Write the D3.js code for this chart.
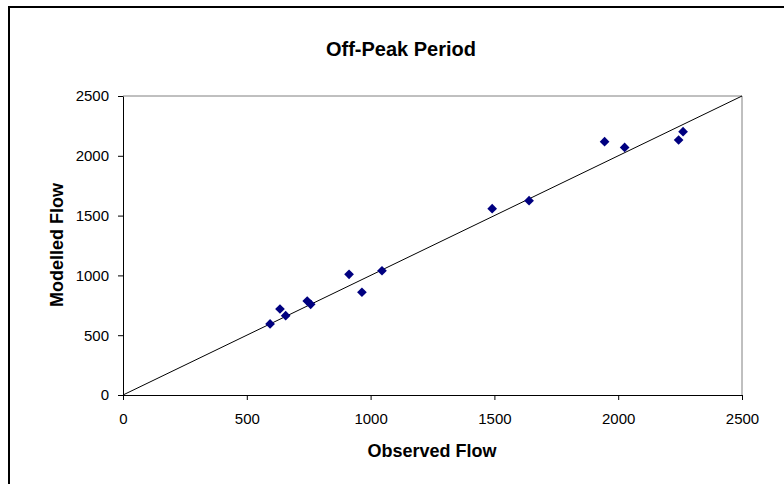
<!DOCTYPE html>
<html>
<head>
<meta charset="utf-8">
<script src="https://cdn.jsdelivr.net/npm/d3@7"></script>
<style>
  body { margin: 0; background: #fff; }
  text { font-family: "Liberation Sans", Arial, sans-serif; }
</style>
</head>
<body>
<script>
// observed vs modelled flows, off-peak
const observed = [594, 634, 657, 744, 758, 913, 965, 1046, 1491, 1640, 1945, 2026, 2244, 2262];
const modelled = [594, 719, 663, 786, 758, 1009, 859, 1039, 1558, 1625, 2118, 2070, 2132, 2202];
const tickValues = [0, 500, 1000, 1500, 2000, 2500];
const lineEnds = [0, 2500];

const w = 784, h = 484;
const plotLeft = 123, plotRight = 742, plotTop = 96, plotBottom = 395;

const svg = d3.select("body").append("svg")
    .attr("width", w)
    .attr("height", h)

// chart area border (runs off the picture on right and bottom)
svg.append("rect")
    .attr("x", 9)
    .attr("y", 7)
    .attr("width", 784)
    .attr("height", 500)
    .attr("fill", "none")
    .attr("stroke", "#000")
    .attr("stroke-width", 2)

const x = d3.scaleLinear().domain([0, 2500]).range([plotLeft, plotRight]);
const y = d3.scaleLinear().domain([0, 2500]).range([plotBottom, plotTop]);

// plot area border top/right in grey
svg.append("path")
    .attr("d", `M${plotLeft},${plotTop}H${plotRight}V${plotBottom}`)
    .attr("fill", "none")
    .attr("stroke", "#808080")
    .attr("stroke-width", 1)

svg.append("g")
    .attr("transform", `translate(0,${plotBottom})`)
    .call(d3.axisBottom(x).tickValues(tickValues).tickFormat(d3.format("d"))
        .tickSize(5).tickSizeOuter(0).tickPadding(13))
svg.append("g")
    .attr("transform", `translate(${plotLeft},0)`)
    .call(d3.axisLeft(y).tickValues(tickValues).tickFormat(d3.format("d"))
        .tickSize(5).tickSizeOuter(0).tickPadding(9))

svg.selectAll(".tick text")
    .style("font-size", "15px")
    .style("font-family", "'Liberation Sans', Arial, sans-serif")
    .attr("fill", "#000")
svg.selectAll(".domain, .tick line").attr("stroke", "#000")

// 1:1 line
svg.append("line")
    .attr("x1", x(lineEnds[0]))
    .attr("y1", y(lineEnds[0]))
    .attr("x2", x(lineEnds[1]))
    .attr("y2", y(lineEnds[1]))
    .attr("stroke", "#000")
    .attr("stroke-width", 1)

svg.append("g")
    .selectAll("path")
    .data(observed)
    .enter()
    .append("path")
    .attr("d", d3.symbol(d3.symbolDiamond2, 60)())
    .attr("transform", (d, i) => "translate(" + x(d) + "," + y(modelled[i]) + ")")
    .attr("fill", "#000080")

svg.append("text")
    .attr("x", 401)
    .attr("y", 56)
    .attr("text-anchor", "middle")
    .style("font-size", "20px")
    .style("font-weight", "bold")
    .text("Off-Peak Period")

svg.append("text")
    .attr("x", 432)
    .attr("y", 457)
    .attr("text-anchor", "middle")
    .style("font-size", "18px")
    .style("font-weight", "bold")
    .text("Observed Flow")

svg.append("text")
    .attr("transform", "translate(63,245) rotate(-90)")
    .attr("text-anchor", "middle")
    .style("font-size", "18px")
    .style("font-weight", "bold")
    .text("Modelled Flow")
</script>
</body>
</html>
